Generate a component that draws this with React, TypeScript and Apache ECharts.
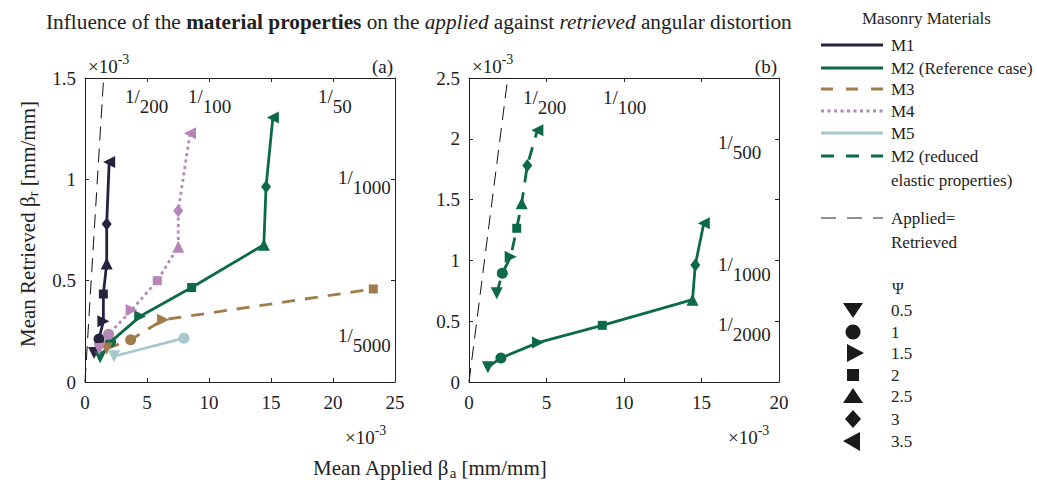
import React, { useEffect, useRef } from 'react';
import * as echarts from 'echarts';

const SERIF = '"Liberation Serif", "Times New Roman", serif';

// Psi values and the symbol used for each
const psiLabels = ['0.5', '1', '1.5', '2', '2.5', '3', '3.5'];
const psiSymbols = ['triangle', 'circle', 'triangle', 'rect', 'triangle', 'diamond', 'triangle'];
const psiRotations = [180, 0, -90, 0, 0, 0, 90];
const psiSizes: any[] = [12, 11, 12, 9, 12, [10, 13], 12];

// Panel (a) data (x10^-3)
const m1X = [0.73, 1.13, 1.48, 1.48, 1.75, 1.75, 1.95];
const m1Y = [0.143, 0.212, 0.3, 0.434, 0.585, 0.78, 1.085];
const m2X = [1.22, 2.06, 4.45, 8.6, 14.42, 14.6, 15.15];
const m2Y = [0.122, 0.198, 0.324, 0.466, 0.677, 0.963, 1.305];
const m3X = [1.75, 3.68, 6.3, 23.25];
const m3Y = [0.165, 0.208, 0.307, 0.459];
const m4X = [1.15, 1.9, 3.76, 5.83, 7.52, 7.52, 8.47];
const m4Y = [0.163, 0.235, 0.355, 0.5, 0.667, 0.845, 1.227];
const m5X = [2.34, 7.98];
const m5Y = [0.127, 0.216];
// Panel (b) data
const m2rX = [1.79, 2.15, 2.69, 3.08, 3.4, 3.76, 4.41];
const m2rY = [0.73, 0.894, 1.03, 1.264, 1.47, 1.78, 2.07];
const equalA = [[0, 0], [1.5, 1.5]];
const equalB = [[0, 0], [2.5, 2.5]];

const C1 = '#27223f';
const C2 = '#0d6a48';
const C3 = '#a27b4b';
const C4 = '#b686b9';
const C5 = '#a6c7cc';

const seriesNames = ['M1', 'M2 (Reference case)', 'M3', 'M4', 'M5', 'M2 (reduced\nelastic properties)', 'Applied=\nRetrieved'];

function pts(xs: number[], ys: number[]) {
  return xs.map((x, i) => ({
    value: [x, ys[i]],
    symbol: psiSymbols[i],
    symbolRotate: psiRotations[i],
    symbolSize: psiSizes[i],
  }));
}

function lineSeries(name: string, grid: number, xs: number[], ys: number[], color: string, dash: any, width = 2.8) {
  return {
    name,
    type: 'line',
    xAxisIndex: grid * 2,
    yAxisIndex: grid * 2,
    data: pts(xs, ys),
    lineStyle: { color, width, type: dash },
    itemStyle: { color },
    showSymbol: true,
    z: 3,
  };
}

function xAx(grid: number, max: number, top: boolean) {
  return {
    type: 'value',
    gridIndex: grid,
    position: top ? 'top' : 'bottom',
    min: 0,
    max,
    interval: 5,
    axisLine: { show: true, onZero: false, lineStyle: { color: '#222', width: 1 } },
    axisTick: { show: true, inside: true, length: 4, lineStyle: { color: '#222' } },
    axisLabel: { show: !top, margin: 11, color: '#222', fontSize: 19, fontFamily: SERIF },
    splitLine: { show: false },
  };
}
function yAx(grid: number, max: number, right: boolean) {
  return {
    type: 'value',
    gridIndex: grid,
    position: right ? 'right' : 'left',
    min: 0,
    max,
    interval: 0.5,
    axisLine: { show: true, onZero: false, lineStyle: { color: '#222', width: 1 } },
    axisTick: { show: true, inside: true, length: 4, lineStyle: { color: '#222' } },
    axisLabel: { show: !right, margin: 9, color: '#222', fontSize: 19, fontFamily: SERIF },
    splitLine: { show: false },
  };
}

const FR = {
  a: { fontSize: 19, fontFamily: SERIF, fill: '#222' },
  b: { fontSize: 19, fontFamily: SERIF, fill: '#222', padding: [21, 0, 0, 0] },
};
function frac(x: number, y: number, den: string) {
  return {
    type: 'text', x, y,
    style: { text: `{a|1/}{b|${den}}`, rich: FR, align: 'left', verticalAlign: 'middle' },
  };
}
const SUP = {
  a: { fontSize: 19, fontFamily: SERIF, fill: '#222' },
  b: { fontSize: 14, fontFamily: SERIF, fill: '#222', padding: [0, 0, 14, 0] },
};
function times(x: number, y: number) {
  return {
    type: 'text', x, y,
    style: { text: '{a|×10}{b|-3}', rich: SUP, align: 'left', verticalAlign: 'middle' },
  };
}

function txt(x: number, y: number, text: string, size = 17, extra: any = {}) {
  return {
    type: 'text', x, y,
    style: { text, fontSize: size, fontFamily: SERIF, fill: '#222', align: 'left', verticalAlign: 'middle', ...extra },
  };
}

const legendLineYs = [45, 68, 89, 111, 133, 156, 218];
const legendColors = [C1, C2, C3, C4, C5, C2, '#222'];
const legendDash: any[] = ['solid', 'solid', [12, 13], [3, 3.5], 'solid', [13, 12], [15, 11]];
const legendWidths = [3, 3, 3, 3, 3, 3, 1];
const psiYs = [310, 332, 353, 375, 396, 419, 441];

export default function App() {
  const ref = useRef<HTMLDivElement>(null);
  useEffect(() => {
    document.body.style.margin = '0';
    const chart = echarts.init(ref.current!, undefined, { renderer: 'svg' });

    const graphic: any[] = [];
    // title
    graphic.push({
      type: 'text', x: 46, y: 22,
      style: {
        text: '{n|Influence of the }{b|material properties}{n| on the }{i|applied}{n| against }{i|retrieved}{n| angular distortion}',
        rich: {
          n: { fontSize: 21.3, fontFamily: SERIF, fill: '#222' },
          b: { fontSize: 21.3, fontFamily: SERIF, fill: '#222', fontWeight: 'bold' },
          i: { fontSize: 21.3, fontFamily: SERIF, fill: '#222', fontStyle: 'italic' },
        },
        align: 'left', verticalAlign: 'middle',
      },
    });
    // axis names
    graphic.push({
      type: 'text', x: 28, y: 224, rotation: Math.PI / 2,
      style: {
        text: '{a|Mean Retrieved β}{s|r}{a| [mm/mm]}',
        rich: {
          a: { fontSize: 21, fontFamily: SERIF, fill: '#222' },
          s: { fontSize: 15, fontFamily: SERIF, fill: '#222', padding: [10, 0, 0, 0] },
        },
        align: 'center', verticalAlign: 'middle',
      },
    });
    graphic.push({
      type: 'text', x: 313, y: 468,
      style: {
        text: '{a|Mean Applied β}{s|a}{a| [mm/mm]}',
        rich: {
          a: { fontSize: 21, fontFamily: SERIF, fill: '#222' },
          s: { fontSize: 15, fontFamily: SERIF, fill: '#222', padding: [10, 0, 0, 0] },
        },
        align: 'left', verticalAlign: 'middle',
      },
    });
    // panel labels and multipliers
    graphic.push(txt(393, 66, '(a)', 19, { align: 'right' }));
    graphic.push(txt(777, 66, '(b)', 19, { align: 'right' }));
    graphic.push(times(88, 66));
    graphic.push(times(472, 66));
    graphic.push(times(345, 437));
    graphic.push(times(728, 437));
    // ratio annotations
    graphic.push(frac(125, 96, '200'));
    graphic.push(frac(188, 96, '100'));
    graphic.push(frac(318, 96, '50'));
    graphic.push(frac(338, 177, '1000'));
    graphic.push(frac(338, 335, '5000'));
    graphic.push(frac(523, 97, '200'));
    graphic.push(frac(603, 97, '100'));
    graphic.push(frac(718, 142, '500'));
    graphic.push(frac(718, 264, '1000'));
    graphic.push(frac(718, 324, '2000'));

    // material legend
    graphic.push(txt(862, 18, 'Masonry Materials', 17));
    legendLineYs.forEach((y, i) => {
      graphic.push({
        type: 'line',
        shape: { x1: 821, y1: y, x2: 883, y2: y },
        style: { stroke: legendColors[i], lineWidth: legendWidths[i], lineDash: legendDash[i] === 'solid' ? null : legendDash[i] },
      });
      const lines = seriesNames[i].split('\n');
      lines.forEach((l, j) => graphic.push(txt(891, y + j * 24, l, 17)));
    });

    // psi legend
    graphic.push(txt(892, 288, 'Ψ', 16));
    const K = '#1a1a1a';
    graphic.push({ type: 'polygon', shape: { points: [[843, 303], [863, 303], [853, 318]] }, style: { fill: K } });
    graphic.push({ type: 'circle', shape: { cx: 853, cy: 332, r: 7.5 }, style: { fill: K } });
    graphic.push({ type: 'polygon', shape: { points: [[847, 344], [864, 353], [847, 362]] }, style: { fill: K } });
    graphic.push({ type: 'rect', shape: { x: 847, y: 369, width: 12, height: 12 }, style: { fill: K } });
    graphic.push({ type: 'polygon', shape: { points: [[843, 403], [863, 403], [853, 388]] }, style: { fill: K } });
    graphic.push({ type: 'polygon', shape: { points: [[853, 410], [861, 419], [853, 428], [845, 419]] }, style: { fill: K } });
    graphic.push({ type: 'polygon', shape: { points: [[860, 432], [860, 451], [843, 441]] }, style: { fill: K } });
    psiLabels.forEach((l, i) => graphic.push(txt(891, psiYs[i], l, 17)));

    chart.setOption({
      animation: false,
      backgroundColor: '#fff',
      grid: [
        { left: 85, top: 78, width: 310, height: 304 },
        { left: 469, top: 78, width: 310, height: 304 },
      ],
      xAxis: [xAx(0, 25, false), xAx(0, 25, true), xAx(1, 20, false), xAx(1, 20, true)],
      yAxis: [yAx(0, 1.5, false), yAx(0, 1.5, true), yAx(1, 2.5, false), yAx(1, 2.5, true)],
      series: [
        { name: 'Applied=Retrieved', type: 'line', xAxisIndex: 0, yAxisIndex: 0, data: equalA, symbol: 'none', lineStyle: { color: '#111', width: 1, type: [14, 8] }, z: 2 },
        { name: 'Applied=Retrieved', type: 'line', xAxisIndex: 2, yAxisIndex: 2, data: equalB, symbol: 'none', lineStyle: { color: '#111', width: 1, type: [14, 8] }, z: 2 },
        lineSeries('M1', 0, m1X, m1Y, C1, 'solid'),
        lineSeries('M2 (Reference case)', 0, m2X, m2Y, C2, 'solid'),
        lineSeries('M3', 0, m3X, m3Y, C3, [13, 10]),
        lineSeries('M4', 0, m4X, m4Y, C4, [3, 3.5]),
        lineSeries('M5', 0, m5X, m5Y, C5, 'solid'),
        lineSeries('M2 (Reference case)', 1, m2X, m2Y, C2, 'solid'),
        lineSeries('M2 (reduced elastic properties)', 1, m2rX, m2rY, C2, [13, 10]),
      ],
      graphic,
    });
    return () => chart.dispose();
  }, []);
  return <div ref={ref} style={{ width: 1037, height: 485 }} />;
}
